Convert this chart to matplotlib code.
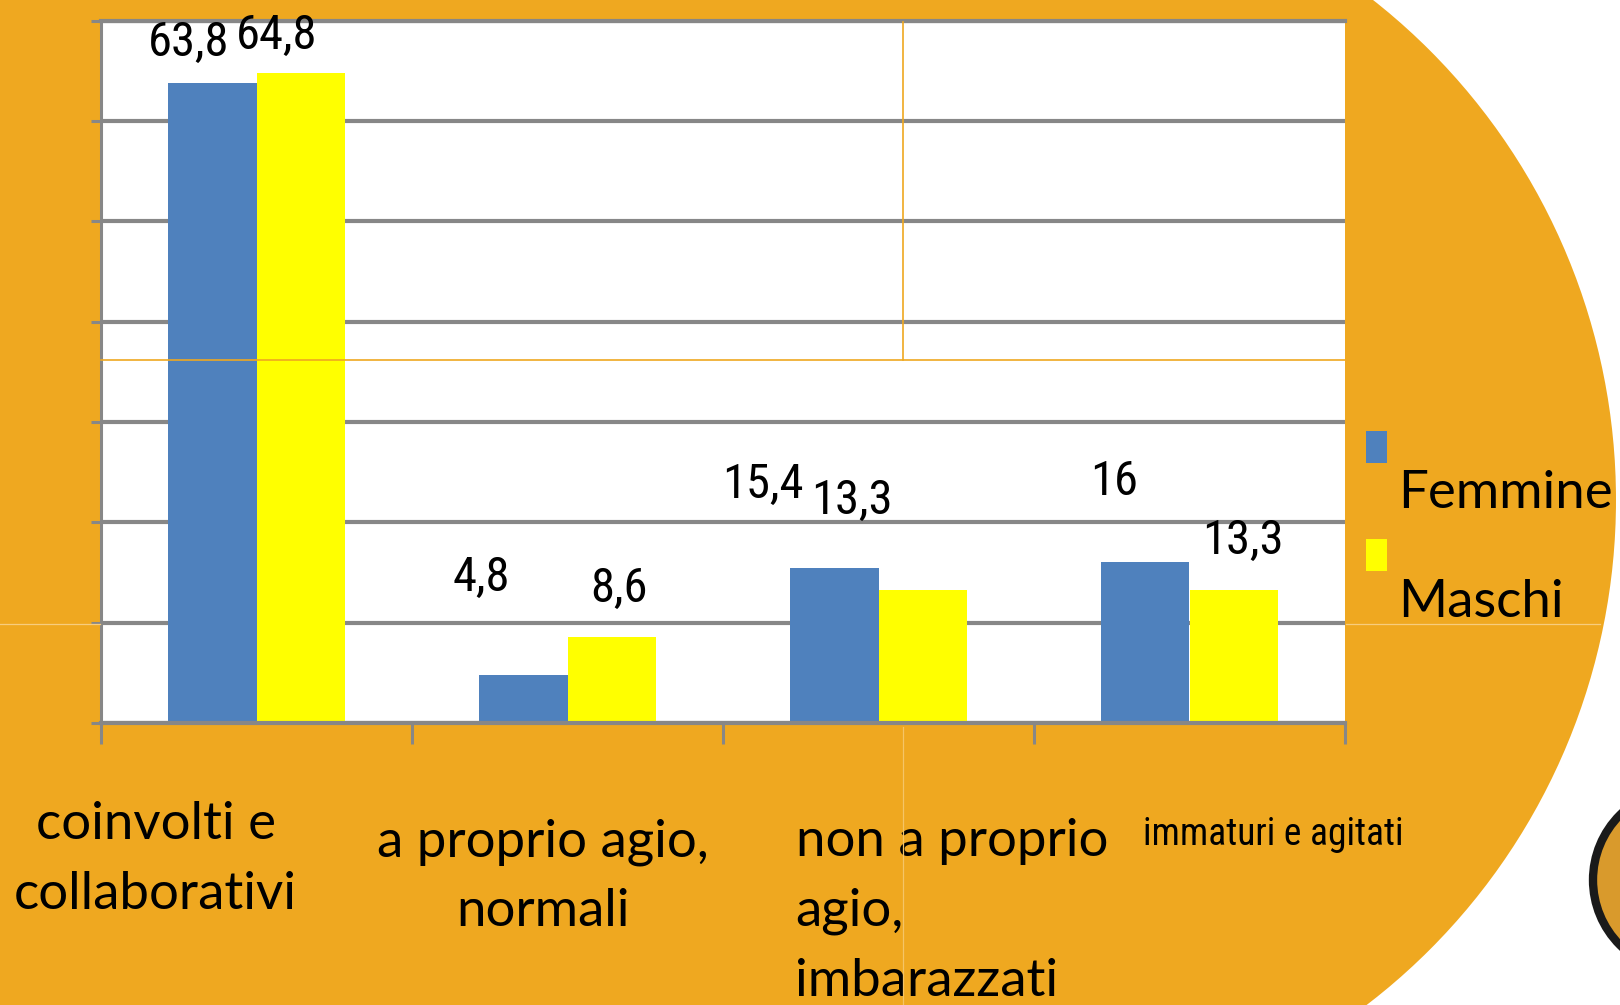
import matplotlib
matplotlib.use("Agg")
import matplotlib.pyplot as plt
import numpy as np
from matplotlib import font_manager
from matplotlib.patches import Rectangle, Ellipse
from matplotlib.lines import Line2D

# ---------------- data ----------------
categories = ["coinvolti e\ncollaborativi",
              "a proprio agio,\nnormali",
              "non a proprio\nagio,\nimbarazzati",
              "immaturi e agitati"]
series_names = ["Femmine", "Maschi"]
femmine = [63.8, 4.8, 15.4, 16]
maschi = [64.8, 8.6, 13.3, 13.3]
yticks = [0, 10, 20, 30, 40, 50, 60, 70]

# ---------------- layout / style ----------------
W, H = 1620, 1005
ORANGE = "#EFA820"
GRAY = "#878787"
BLUE = "#4F81BD"
YELLOW = "#FFFF00"
series_colors = [BLUE, YELLOW]

# pick a condensed face if one is installed
entries = font_manager.fontManager.ttflist
names = {f.name for f in entries}
cond_family, cond_stretch = None, "normal"
for n in ["Liberation Sans Narrow", "Roboto Condensed", "Open Sans Condensed",
          "Noto Sans Condensed", "DejaVu Sans Condensed"]:
    if n in names:
        cond_family = n
        break
if cond_family is None:
    for fam in ["Noto Sans", "DejaVu Sans", "Open Sans", "Roboto"]:
        if any(f.name == fam and str(f.stretch) in ("condensed", "semi-condensed",
               "extra-condensed", "500", "600", "700") and f.style == "normal"
               for f in entries):
            cond_family, cond_stretch = fam, "condensed"
            break
if cond_family is None:
    cond_family, cond_stretch = "Lato", "normal"
narrow = cond_stretch == "condensed" or cond_family != "Lato"

lab_size = 35 if narrow else 29
cat4_size = 27 if narrow else 23

# data label offsets (pixels) relative to bar top centre
fem_off = [(-24, 40), (-42, 97), (-71, 84), (-31, 80)]
mas_off = [(-24, 37), (7, 48), (-71, 89), (9, 49)]
# category label offsets (pixels) relative to (category, 0)
cat_layout = [(-101, -78, "center"), (-25, -95, "center"),
              (-83, -95, "left"), (84, -93, "center")]

fig = plt.figure(figsize=(W / 100, H / 100), dpi=100)
fig.patch.set_facecolor("white")

# orange background disc
cx, cy, R = 980, 500, 636
fig.add_artist(Rectangle((0, 0), cx / W, 1, transform=fig.transFigure,
                         facecolor=ORANGE, edgecolor="none", zorder=-10))
fig.add_artist(Ellipse((cx / W, 1 - cy / H), 2 * R / W, 2 * R / H,
                       transform=fig.transFigure, facecolor=ORANGE,
                       edgecolor="none", zorder=-10))
# partial logo ring at right edge
fig.add_artist(Ellipse((1685 / W, 1 - 880 / H), 2 * 92 / W, 2 * 92 / H,
                       transform=fig.transFigure, facecolor="#D99A2C",
                       edgecolor="#1a1a1a", lw=6, zorder=-9))

ax = fig.add_axes([101 / W, 1 - 723 / H, (1345 - 101) / W, (723 - 20.7) / H])
ax.set_facecolor("white")

x = np.arange(len(categories))
bw = 0.284
bars_f = ax.bar(x - 0.142, femmine, bw, color=BLUE, zorder=2)
bars_m = ax.bar(x + 0.142, maschi, bw, color=YELLOW, zorder=2)

ax.set_xlim(-0.5, 3.5)
ax.set_ylim(0, 70)
ax.set_yticks(yticks)
ax.set_yticklabels([])
ax.yaxis.grid(True, color=GRAY, lw=3)
ax.set_axisbelow(True)
ax.tick_params(axis="y", direction="out", length=7.5, width=2.2, color=GRAY)
ax.set_xticks(np.arange(-0.5, len(categories), 1.0))
ax.set_xticklabels([])
ax.tick_params(axis="x", direction="out", length=15, width=2.2, color=GRAY)
ax.spines["left"].set_color(GRAY)
ax.spines["left"].set_linewidth(2.2)
for s in ["bottom", "top"]:
    ax.spines[s].set_color(GRAY)
    ax.spines[s].set_linewidth(3)
ax.spines["right"].set_visible(False)

lab_font = [cond_family, "Lato", "DejaVu Sans"]
for bars, vals, offs in [(bars_f, femmine, fem_off), (bars_m, maschi, mas_off)]:
    for b, v, (dx, dy) in zip(bars, vals, offs):
        ax.annotate(f"{v:g}".replace(".", ","),
                    xy=(b.get_x() + b.get_width() / 2, v),
                    xytext=(dx, dy), textcoords="offset pixels",
                    ha="center", va="center", fontsize=lab_size,
                    family=lab_font, fontstretch=cond_stretch,
                    color="black", annotation_clip=False)

for i, (cat, (dx, dy, ha)) in enumerate(zip(categories, cat_layout)):
    if i == 3:
        fam, fs, st = lab_font, cat4_size, cond_stretch
    else:
        fam, fs, st = ["Lato", "DejaVu Sans"], 38, "normal"
    ax.annotate(cat, xy=(i, 0), xytext=(dx, dy), textcoords="offset pixels",
                ha=ha, va="top", multialignment=ha, fontsize=fs,
                family=fam, fontstretch=st, linespacing=1.6, color="black",
                annotation_clip=False)

# legend (markers above-left of labels, as in original)
leg_rect_y = [463, 571]
leg_text_y = [508, 617]
for name, col, ry, ty in zip(series_names, series_colors, leg_rect_y, leg_text_y):
    fig.add_artist(Rectangle((1366 / W, 1 - ry / H), 21 / W, 32 / H,
                             transform=fig.transFigure, facecolor=col,
                             edgecolor="none", zorder=3))
    fig.text(1398 / W, 1 - ty / H, name, fontsize=38, family=["Lato", "DejaVu Sans"],
             ha="left", va="baseline", color="black")

# thin seam lines of the original slide
def seg(x0, y0, x1, y1, color, lw=1.0):
    fig.add_artist(Line2D([x0 / W, x1 / W], [1 - y0 / H, 1 - y1 / H],
                          transform=fig.transFigure, color=color, lw=lw, zorder=5))

seg(101, 360, 1345, 360, ORANGE, 1.2)
seg(903, 22, 903, 360, ORANGE, 1.2)
seg(903, 727, 903, 1005, "#F5C466", 0.9)
seg(0, 624, 100, 624, "#F7CD7E", 0.9)
seg(1346, 624, 1600, 624, "#F7CD7E", 0.9)

fig.savefig("out.png", dpi=100, facecolor=fig.get_facecolor())
